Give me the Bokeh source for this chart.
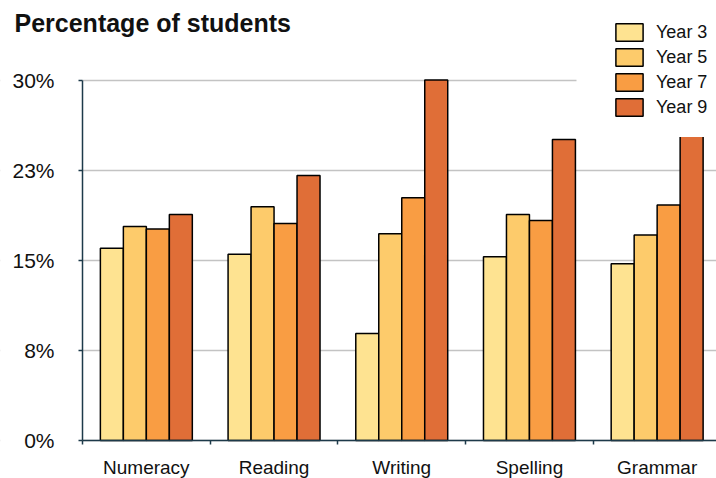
from bokeh.plotting import figure
from bokeh.models import (ColumnDataSource, FixedTicker, Legend, LegendItem,
                          Label, BoxAnnotation, Range1d)
from bokeh.embed import file_html
from bokeh.resources import INLINE

categories = ["Numeracy", "Reading", "Writing", "Spelling", "Grammar"]
series = ["Year 3", "Year 5", "Year 7", "Year 9"]
year3 = [16.0, 15.5, 8.9, 15.3, 14.7]
year5 = [17.8, 19.45, 17.2, 18.8, 17.1]
year7 = [17.6, 18.05, 20.2, 18.3, 19.6]
year9 = [18.8, 22.05, 30.0, 25.05, 26.0]
y_ticks = [0, 7.5, 15, 22.5, 30]
y_tick_labels = ["0%", "8%", "15%", "23%", "30%"]
colors = ["#FEE391", "#FDCB6B", "#F99D43", "#E06E37"]

FONT = "Liberation Sans"
AXIS_COLOR = "#1d3a4a"
W, H = 716, 478
LEFT, BOTTOM = 82, 440          # canvas position of the axes origin
CAT_PX = 127.7                  # pixels per category
PX_PER_PCT = 360.5 / 30.0       # pixels per percent

p = figure(width=W, height=H, output_backend="svg", toolbar_location=None,
           x_range=Range1d(-LEFT / CAT_PX, (W - LEFT) / CAT_PX),
           y_range=Range1d(-(H - BOTTOM) / PX_PER_PCT, BOTTOM / PX_PER_PCT),
           min_border_left=0, min_border_right=0, min_border_top=0,
           min_border_bottom=0)
p.outline_line_color = None
p.background_fill_color = "white"
p.border_fill_color = "white"

centers = [i + 0.5 for i in range(len(categories))]
offsets = [-0.27, -0.09, 0.09, 0.27]
all_vals = [year3, year5, year7, year9]
renderers = []
for s, vals, off, col in zip(series, all_vals, offsets, colors):
    src = ColumnDataSource(dict(x=[c + off for c in centers], top=vals))
    r = p.vbar(x="x", top="top", width=0.18, bottom=0, source=src,
               fill_color=col, line_color="black", line_width=1.5)
    renderers.append(r)

# grid
p.xgrid.grid_line_color = None
p.ygrid.grid_line_color = "#c3c3c3"
p.ygrid.grid_line_width = 1.5
p.ygrid.ticker = FixedTicker(ticks=y_ticks)

# keep grid lines to the right of the y axis
left_mask = BoxAnnotation(right=0, fill_color="white", fill_alpha=1.0,
                          line_color=None, level="underlay")
p.add_layout(left_mask)

# y axis
p.yaxis.fixed_location = 0
p.yaxis.ticker = FixedTicker(ticks=y_ticks)
p.yaxis.bounds = (0, 30)
p.yaxis.major_label_overrides = {t: l for t, l in zip(y_ticks, y_tick_labels)}
p.yaxis.axis_line_color = AXIS_COLOR
p.yaxis.axis_line_width = 1.5
p.yaxis.major_tick_line_color = AXIS_COLOR
p.yaxis.major_tick_line_width = 1.5
p.yaxis.major_tick_in = 0
p.yaxis.major_tick_out = 4
p.yaxis.minor_tick_line_color = None
p.yaxis.major_label_text_font = FONT
p.yaxis.major_label_text_font_size = "21px"
p.yaxis.major_label_text_color = "#111111"
p.yaxis.major_label_standoff = 24

# x axis
p.xaxis.fixed_location = 0
p.xaxis.ticker = FixedTicker(ticks=centers, minor_ticks=list(range(len(categories) + 1)))
p.xaxis.bounds = (0, len(categories))
p.xaxis.major_label_overrides = {c: n for c, n in zip(centers, categories)}
p.xaxis.axis_line_color = AXIS_COLOR
p.xaxis.axis_line_width = 1.5
p.xaxis.major_tick_line_color = None
p.xaxis.minor_tick_line_color = AXIS_COLOR
p.xaxis.minor_tick_line_width = 1.5
p.xaxis.minor_tick_in = 0
p.xaxis.minor_tick_out = 4
p.xaxis.major_label_text_font = FONT
p.xaxis.major_label_text_font_size = "19px"
p.xaxis.major_label_text_color = "#111111"
p.xaxis.major_label_standoff = 10

# white legend backdrop area inside the plot
mask = BoxAnnotation(left=(576 - LEFT) / CAT_PX, bottom=25.25,
                     fill_color="white", fill_alpha=1.0, line_color=None)
p.add_layout(mask)

legend = Legend(items=[LegendItem(label=s, renderers=[r]) for s, r in zip(series, renderers)],
                location=(612, H - 118), orientation="vertical",
                glyph_width=34, glyph_height=22, spacing=3,
                label_height=22, label_standoff=10,
                label_text_font=FONT, label_text_font_size="18px",
                label_text_color="#111111",
                padding=0, margin=0,
                background_fill_alpha=0, border_line_color=None)
p.add_layout(legend)

title = Label(x=14, y=H - 22, x_units="screen", y_units="screen",
              text="Percentage of students", text_font=FONT,
              text_font_size="25px", text_font_style="bold",
              text_color="#111111", text_baseline="alphabetic")
p.add_layout(title)

open("out.html", "w").write(file_html(p, INLINE))
